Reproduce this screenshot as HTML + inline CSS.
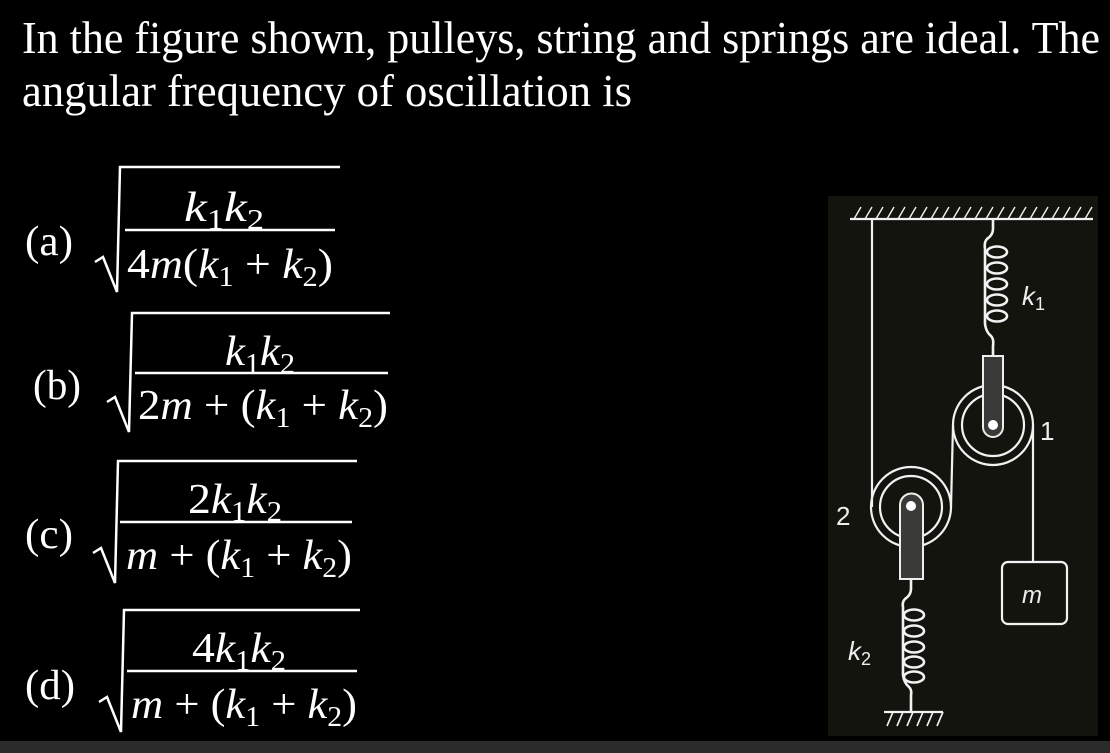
<!DOCTYPE html>
<html><head><meta charset="utf-8"><style>
html,body{margin:0;padding:0;background:#000;width:1110px;height:753px;overflow:hidden}
svg{display:block}
.t{font-family:"Liberation Serif",serif;fill:#fff}
.i{font-style:italic}
.d{font-family:"Liberation Sans",sans-serif;fill:#eee}
</style></head><body>
<svg width="1110" height="753" viewBox="0 0 1110 753" xmlns="http://www.w3.org/2000/svg">
<rect width="1110" height="753" fill="#000"/>
<rect x="0" y="741" width="1110" height="12" fill="#2b2b2b"/>
<text class="t" x="22" y="53" font-size="46" textLength="1078" lengthAdjust="spacingAndGlyphs">In the figure shown, pulleys, string and springs are ideal. The</text>
<text class="t" x="22" y="106" font-size="46" textLength="610" lengthAdjust="spacingAndGlyphs">angular frequency of oscillation is</text>

<g stroke="#fff" stroke-width="2.5" fill="none">
<polyline points="95,262 103,257 117,292 120,167 340,167"/>
<line x1="125" y1="230" x2="335" y2="230"/>
<polyline points="107,402 115,397 129,432 132,313 390,313"/>
<line x1="135" y1="373" x2="388" y2="373"/>
<polyline points="93,553 101,548 115,583 118,461 357,461"/>
<line x1="120" y1="522" x2="352" y2="522"/>
<polyline points="99,702 107,697 121,732 124,610 360,610"/>
<line x1="127" y1="671" x2="357" y2="671"/>
</g>
<g class="t" font-size="42">
<text x="25" y="255" textLength="48" lengthAdjust="spacingAndGlyphs">(a)</text>
<text x="184" y="221" class="i" textLength="80" lengthAdjust="spacingAndGlyphs">k<tspan font-size="28" dy="8" font-style="normal">1</tspan><tspan dy="-8">k</tspan><tspan font-size="28" dy="8" font-style="normal">2</tspan></text>
<text x="127" y="278" textLength="206" lengthAdjust="spacingAndGlyphs">4<tspan class="i">m</tspan>(<tspan class="i">k</tspan><tspan font-size="28" dy="8">1</tspan><tspan dy="-8"> + </tspan><tspan class="i">k</tspan><tspan font-size="28" dy="8">2</tspan><tspan dy="-8">)</tspan></text>

<text x="33" y="399" textLength="48" lengthAdjust="spacingAndGlyphs">(b)</text>
<text x="225" y="365" class="i" textLength="70" lengthAdjust="spacingAndGlyphs">k<tspan font-size="28" dy="8" font-style="normal">1</tspan><tspan dy="-8">k</tspan><tspan font-size="28" dy="8" font-style="normal">2</tspan></text>
<text x="138" y="419" textLength="250" lengthAdjust="spacingAndGlyphs">2<tspan class="i">m</tspan> + (<tspan class="i">k</tspan><tspan font-size="28" dy="8">1</tspan><tspan dy="-8"> + </tspan><tspan class="i">k</tspan><tspan font-size="28" dy="8">2</tspan><tspan dy="-8">)</tspan></text>

<text x="25" y="548" textLength="48" lengthAdjust="spacingAndGlyphs">(c)</text>
<text x="188" y="513" textLength="94" lengthAdjust="spacingAndGlyphs">2<tspan class="i">k</tspan><tspan font-size="28" dy="8">1</tspan><tspan dy="-8" class="i">k</tspan><tspan font-size="28" dy="8">2</tspan></text>
<text x="126" y="569" textLength="226" lengthAdjust="spacingAndGlyphs"><tspan class="i">m</tspan> + (<tspan class="i">k</tspan><tspan font-size="28" dy="8">1</tspan><tspan dy="-8"> + </tspan><tspan class="i">k</tspan><tspan font-size="28" dy="8">2</tspan><tspan dy="-8">)</tspan></text>

<text x="25" y="699" textLength="50" lengthAdjust="spacingAndGlyphs">(d)</text>
<text x="192" y="662" textLength="94" lengthAdjust="spacingAndGlyphs">4<tspan class="i">k</tspan><tspan font-size="28" dy="8">1</tspan><tspan dy="-8" class="i">k</tspan><tspan font-size="28" dy="8">2</tspan></text>
<text x="131" y="718" textLength="226" lengthAdjust="spacingAndGlyphs"><tspan class="i">m</tspan> + (<tspan class="i">k</tspan><tspan font-size="28" dy="8">1</tspan><tspan dy="-8"> + </tspan><tspan class="i">k</tspan><tspan font-size="28" dy="8">2</tspan><tspan dy="-8">)</tspan></text>
</g>

<rect x="828" y="196" width="270" height="540" fill="#14140f"/>
<g stroke="#f2f2f2" stroke-width="2.2" fill="none">
<line x1="850" y1="219" x2="1093" y2="219"/>
<path d="M854,219 l7,-12 M865,219 l7,-12 M876,219 l7,-12 M887,219 l7,-12 M898,219 l7,-12 M909,219 l7,-12 M920,219 l7,-12 M931,219 l7,-12 M942,219 l7,-12 M953,219 l7,-12 M964,219 l7,-12 M975,219 l7,-12 M986,219 l7,-12 M997,219 l7,-12 M1008,219 l7,-12 M1019,219 l7,-12 M1030,219 l7,-12 M1041,219 l7,-12 M1052,219 l7,-12 M1063,219 l7,-12 M1074,219 l7,-12 M1085,219 l7,-12" stroke-width="1.4"/>
<line x1="872" y1="219" x2="872" y2="507"/>
<path d="M993,219 v10 q0,6 -6,10 q-3,3 -2,10 v75 q1,8 6,12 q3,3 2,10 v10" stroke-width="2.6"/>
<g stroke-width="2.6">
<ellipse cx="997" cy="252" rx="10" ry="5.5"/>
<ellipse cx="997" cy="268" rx="10" ry="5.5"/>
<ellipse cx="997" cy="284" rx="10" ry="5.5"/>
<ellipse cx="997" cy="300" rx="10" ry="5.5"/>
<ellipse cx="997" cy="316" rx="10" ry="5.5"/>
</g>
<circle cx="993" cy="425" r="40"/>
<circle cx="993" cy="425" r="31"/>
<circle cx="911" cy="507" r="40"/>
<circle cx="911" cy="507" r="31"/>
<line x1="951" y1="507" x2="953" y2="425"/>
<line x1="1033" y1="425" x2="1033" y2="562"/>
<rect x="1002" y="562" width="65" height="62" rx="6"/>
<path d="M911,579 v10 q0,6 -6,10 q-3,3 -2,8 v68 q1,8 6,12 q3,3 2,8 v17" stroke-width="2.6"/>
<g stroke-width="2.6">
<ellipse cx="914" cy="615" rx="10" ry="5.5"/>
<ellipse cx="914" cy="631" rx="10" ry="5.5"/>
<ellipse cx="914" cy="647" rx="10" ry="5.5"/>
<ellipse cx="914" cy="662" rx="10" ry="5.5"/>
<ellipse cx="914" cy="677" rx="10" ry="5.5"/>
</g>
<line x1="884" y1="712" x2="943" y2="712"/>
<path d="M893,712 l-6,14 M903,712 l-6,14 M913,712 l-6,14 M923,712 l-6,14 M933,712 l-6,14 M943,712 l-6,14" stroke-width="1.6"/>
</g>
<path d="M983,356 h20 v71 a10,10 0 0 1 -20,0 z" fill="#3a3a38" stroke="#eee" stroke-width="2"/>
<circle cx="993" cy="425" r="5" fill="#fff"/>
<path d="M900,505 a11.5,11.5 0 0 1 23,0 v74 h-23 z" fill="#3a3a38" stroke="#eee" stroke-width="2"/>
<circle cx="911" cy="506" r="5" fill="#fff"/>
<g class="d">
<text x="1022" y="305" font-size="26" font-style="italic">k<tspan font-size="18" dy="5" font-style="normal">1</tspan></text>
<text x="1040" y="440" font-size="26">1</text>
<text x="836" y="525" font-size="26">2</text>
<text x="848" y="660" font-size="26" font-style="italic">k<tspan font-size="18" dy="5" font-style="normal">2</tspan></text>
<text x="1022" y="603" font-size="24" font-style="italic">m</text>
</g>
</svg>
</body></html>
